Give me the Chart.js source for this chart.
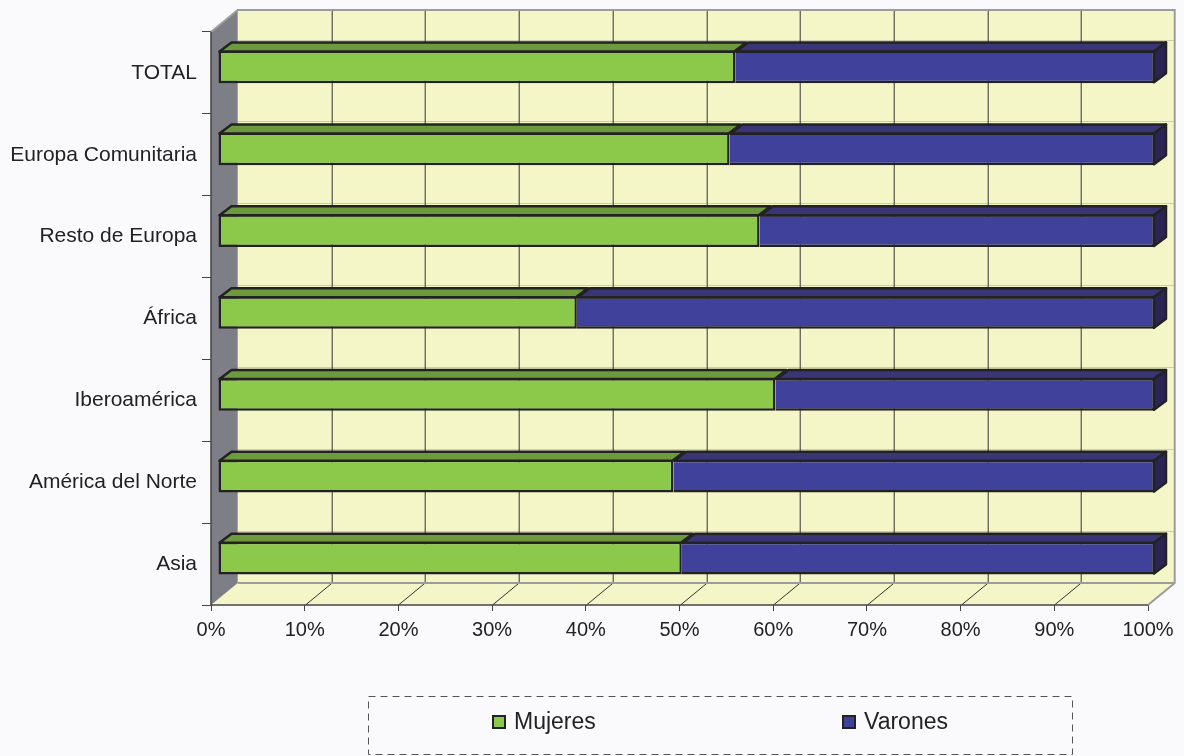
<!DOCTYPE html>
<html>
<head>
<meta charset="utf-8">
<script src="https://cdn.jsdelivr.net/npm/chart.js@4.4.0/dist/chart.umd.min.js"></script>
<style>
  html, body { margin: 0; padding: 0; background: #fafafc; }
  #wrap { width: 1184px; height: 756px; position: relative; }
</style>
</head>
<body>
<div id="wrap"><canvas id="chart"></canvas></div>
<script>
const categories = ['TOTAL', 'Europa Comunitaria', 'Resto de Europa', 'África', 'Iberoamérica', 'América del Norte', 'Asia'];
const mujeres = [55.2, 54.6, 57.8, 38.3, 59.5, 48.6, 49.5];
const varones = [44.8, 45.4, 42.2, 61.7, 40.5, 51.4, 50.5];
const seriesNames = ['Mujeres', 'Varones'];
const tickLabels = ['0%', '10%', '20%', '30%', '40%', '50%', '60%', '70%', '80%', '90%', '100%'];

const GREEN = '#8cc94b';
const GREEN_TOP = '#6e9a3e';
const BLUE = '#3f419a';
const BLUE_TOP = '#3a3575';
const BLUE_SIDE = '#2c2456';
const INK = '#222';

// 3d depth of the walls and of the bars
const WALL_DX = 26.7, WALL_DY = -22;
const BAR_SHIFT_X = 7, BAR_SHIFT_Y = -6;
const BAR_DX = 12, BAR_DY = -9;

Chart.defaults.font.family = '"Liberation Sans", Arial, sans-serif';
Chart.defaults.color = INK;

const scene3d = {
    id: 'scene3d',
    beforeDraw(chart) {
        const ctx = chart.ctx;
        ctx.save();
        ctx.fillStyle = '#fafafc';
        ctx.fillRect(0, 0, chart.width, chart.height);
        ctx.restore();
    },
    beforeDatasetsDraw(chart) {
        const ctx = chart.ctx;
        const { left, right, top, bottom } = chart.chartArea;
        const x = chart.scales.x;
        ctx.save();

        // back wall
        ctx.fillStyle = '#f5f6c8';
        ctx.fillRect(left + WALL_DX, top + WALL_DY, right - left, bottom - top);

        // floor
        ctx.beginPath();
        ctx.moveTo(left, bottom);
        ctx.lineTo(left + WALL_DX, bottom + WALL_DY);
        ctx.lineTo(right + WALL_DX, bottom + WALL_DY);
        ctx.lineTo(right, bottom);
        ctx.closePath();
        ctx.fill();

        // side wall
        ctx.fillStyle = '#7e7e86';
        ctx.beginPath();
        ctx.moveTo(left, top);
        ctx.lineTo(left + WALL_DX, top + WALL_DY);
        ctx.lineTo(left + WALL_DX, bottom + WALL_DY);
        ctx.lineTo(left, bottom);
        ctx.closePath();
        ctx.fill();

        // faint lines behind each bar
        ctx.strokeStyle = 'rgba(130,130,130,0.35)';
        ctx.lineWidth = 1;
        chart.getDatasetMeta(0).data.forEach(el => {
            const yy = Math.round(el.y - el.height / 2 + BAR_DY + BAR_SHIFT_Y) - 1.5;
            ctx.beginPath();
            ctx.moveTo(left + WALL_DX, yy);
            ctx.lineTo(right + WALL_DX, yy);
            ctx.stroke();
        });

        // grid lines on back wall and floor
        ctx.strokeStyle = '#333';
        ctx.lineWidth = 1;
        for (let v = 10; v < 100; v += 10) {
            const px = Math.round(x.getPixelForValue(v)) + 0.5;
            ctx.beginPath();
            ctx.moveTo(px + WALL_DX, top + WALL_DY);
            ctx.lineTo(px + WALL_DX, bottom + WALL_DY);
            ctx.lineTo(px, bottom);
            ctx.stroke();
        }

        // wall edges
        ctx.strokeStyle = '#9c9c9c';
        ctx.lineWidth = 2;
        ctx.beginPath();
        ctx.moveTo(left, top);
        ctx.lineTo(left + WALL_DX, top + WALL_DY);
        ctx.lineTo(right + WALL_DX, top + WALL_DY);
        ctx.lineTo(right + WALL_DX, bottom + WALL_DY);
        ctx.lineTo(right, bottom);
        ctx.stroke();
        ctx.beginPath();
        ctx.moveTo(left + WALL_DX, bottom + WALL_DY);
        ctx.lineTo(right + WALL_DX, bottom + WALL_DY);
        ctx.stroke();

        // front axis lines
        ctx.strokeStyle = '#444';
        ctx.lineWidth = 1.5;
        ctx.beginPath();
        ctx.moveTo(left, top);
        ctx.lineTo(left, bottom);
        ctx.lineTo(right, bottom);
        ctx.stroke();

        ctx.restore();

        // bars sit a little behind the front plane
        ctx.save();
        ctx.translate(BAR_SHIFT_X, BAR_SHIFT_Y);
    },
    afterDatasetsDraw(chart) {
        const ctx = chart.ctx;
        const n = chart.data.datasets.length;
        const tops = [GREEN_TOP, BLUE_TOP];
        chart.data.datasets.forEach((ds, i) => {
            chart.getDatasetMeta(i).data.forEach(el => {
                const t = el.y - el.height / 2;
                const b = el.y + el.height / 2;
                const x0 = Math.min(el.base, el.x), x1 = Math.max(el.base, el.x);
                ctx.fillStyle = tops[i];
                ctx.strokeStyle = INK;
                ctx.lineWidth = 2.5;
                ctx.lineJoin = 'round';
                ctx.beginPath();
                ctx.moveTo(x0 + 1, t + 1);
                ctx.lineTo(x0 + 1 + BAR_DX, t + 1 + BAR_DY);
                ctx.lineTo(x1 - 1 + BAR_DX, t + 1 + BAR_DY);
                ctx.lineTo(x1 - 1, t + 1);
                ctx.closePath();
                ctx.fill();
                ctx.stroke();
                if (i === n - 1) {
                    ctx.fillStyle = BLUE_SIDE;
                    ctx.beginPath();
                    ctx.moveTo(x1 - 1, t + 1);
                    ctx.lineTo(x1 - 1 + BAR_DX, t + 1 + BAR_DY);
                    ctx.lineTo(x1 - 1 + BAR_DX, b - 1 + BAR_DY);
                    ctx.lineTo(x1 - 1, b - 1);
                    ctx.closePath();
                    ctx.fill();
                    ctx.stroke();
                }
            });
        });
        ctx.restore();
    },
    afterDraw(chart) {
        const ctx = chart.ctx;
        ctx.save();
        // legend box
        ctx.strokeStyle = '#555';
        ctx.lineWidth = 1;
        ctx.setLineDash([7, 5]);
        ctx.strokeRect(368.5, 696.5, 704, 58);
        ctx.setLineDash([]);
        const items = [
            { label: seriesNames[0], color: GREEN, x: 492 },
            { label: seriesNames[1], color: BLUE, x: 842 },
        ];
        ctx.font = '23px "Liberation Sans", Arial, sans-serif';
        ctx.textBaseline = 'middle';
        items.forEach(it => {
            ctx.fillStyle = it.color;
            ctx.fillRect(it.x, 715, 14, 14);
            ctx.strokeStyle = INK;
            ctx.lineWidth = 2;
            ctx.strokeRect(it.x + 1, 716, 12, 12);
            ctx.fillStyle = INK;
            ctx.fillText(it.label, it.x + 22, 723);
        });
        ctx.restore();
    }
};

new Chart(document.getElementById('chart'), {
    type: 'bar',
    data: {
        labels: categories,
        datasets: [
            {
                label: seriesNames[0],
                data: mujeres,
                backgroundColor: GREEN,
                borderColor: INK,
                borderWidth: 2.5,
                borderSkipped: false,
                clip: false,
            },
            {
                label: seriesNames[1],
                data: varones,
                backgroundColor: BLUE,
                borderColor: INK,
                borderWidth: 2.5,
                borderSkipped: 'left',
                clip: false,
            },
        ],
    },
    options: {
        indexAxis: 'y',
        responsive: true,
        maintainAspectRatio: false,
        animation: false,
        barPercentage: 0.4,
        categoryPercentage: 1,
        layout: { padding: { left: 0, top: 32, right: 36, bottom: 111 } },
        plugins: {
            legend: { display: false },
            tooltip: { enabled: false },
        },
        scales: {
            x: {
                stacked: true,
                min: 0,
                max: 100,
                afterFit: s => { s.height = 40; },
                border: { display: false },
                grid: { drawOnChartArea: false, drawTicks: true, tickLength: 6, color: '#444' },
                ticks: {
                    stepSize: 10,
                    padding: 7,
                    font: { size: 20 },
                    color: INK,
                    callback: v => tickLabels[v / 10],
                },
            },
            y: {
                stacked: true,
                afterFit: s => { s.width = 211; },
                border: { display: false },
                grid: { drawOnChartArea: false, drawTicks: true, tickLength: 9, offset: true, color: '#444' },
                ticks: { padding: 5, font: { size: 21 }, color: INK },
            },
        },
    },
    plugins: [scene3d],
});
</script>
</body>
</html>
